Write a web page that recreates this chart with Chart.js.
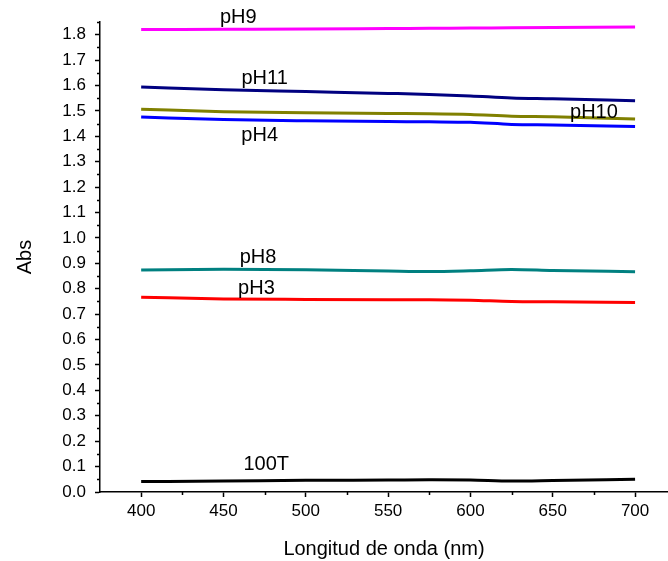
<!DOCTYPE html>
<html>
<head>
<meta charset="utf-8">
<script src="https://cdn.jsdelivr.net/npm/chart.js@4/dist/chart.umd.min.js"></script>
<style>
  html, body { margin: 0; padding: 0; background: #fff; }
  #wrap { width: 668px; height: 561px; position: relative; }
</style>
</head>
<body>
<div id="wrap"><canvas id="c" width="668" height="561"></canvas></div>
<script>
// Wavelengths (nm)
const wavelengths = [400, 450, 500, 550, 575, 600, 625, 650, 700];

// Absorbance series
const pH9  = [1.820, 1.821, 1.822, 1.824, 1.825, 1.826, 1.827, 1.828, 1.830];
const pH11 = [1.594, 1.583, 1.576, 1.569, 1.565, 1.559, 1.551, 1.548, 1.540];
const pH10 = [1.507, 1.497, 1.493, 1.490, 1.489, 1.486, 1.479, 1.477, 1.468];
const pH4  = [1.476, 1.466, 1.461, 1.458, 1.457, 1.455, 1.447, 1.445, 1.439];
const pH8  = [0.874, 0.877, 0.875, 0.870, 0.868, 0.871, 0.876, 0.872, 0.867];
const pH3  = [0.767, 0.760, 0.758, 0.757, 0.757, 0.755, 0.750, 0.749, 0.746];
const t100 = [0.041, 0.043, 0.046, 0.047, 0.048, 0.047, 0.043, 0.045, 0.050];

const seriesNames = ['pH9', 'pH11', 'pH10', 'pH4', 'pH8', 'pH3', '100T'];
const seriesValues = [pH9, pH11, pH10, pH4, pH8, pH3, t100];
const seriesColors = ['#ff00ff', '#000080', '#808000', '#0000ff', '#008080', '#ff0000', '#000000'];

// Text labels next to curves (data coordinates)
const labelText = ['pH9', 'pH11', 'pH10', 'pH4', 'pH8', 'pH3', '100T'];
const labelX    = [459, 475, 675, 472, 471, 470, 476];
const labelY    = [1.867, 1.626, 1.493, 1.402, 0.922, 0.800, 0.110];

const FONT = '"Liberation Sans", Arial, sans-serif';

const datasets = seriesNames.map((name, i) => ({
  label: name,
  data: wavelengths.map((x, j) => ({ x: x, y: seriesValues[i][j] })),
  borderColor: seriesColors[i],
  backgroundColor: seriesColors[i],
  borderWidth: 3,
  pointRadius: 0,
  cubicInterpolationMode: 'monotone',
  fill: false
}));

const extras = {
  id: 'extras',
  afterDraw(chart) {
    const ctx = chart.ctx;
    const xs = chart.scales.x, ys = chart.scales.y;
    ctx.save();
    ctx.strokeStyle = '#000';
    ctx.lineWidth = 1.5;
    ctx.beginPath();
    // minor ticks on x
    for (let v = 425; v <= 700; v += 50) {
      const px = Math.round(xs.getPixelForValue(v)) + 0.5;
      ctx.moveTo(px, ys.bottom);
      ctx.lineTo(px, ys.bottom + 3);
    }
    // minor ticks on y
    for (let k = 1; k <= 37; k += 2) {
      const v = k * 0.05;
      const py = Math.round(ys.getPixelForValue(v)) + 0.5;
      ctx.moveTo(xs.left, py);
      ctx.lineTo(xs.left - 3, py);
    }
    ctx.stroke();
    // curve labels
    ctx.fillStyle = '#000';
    ctx.font = '20px ' + FONT;
    ctx.textAlign = 'center';
    ctx.textBaseline = 'middle';
    for (let i = 0; i < labelText.length; i++) {
      ctx.fillText(labelText[i], xs.getPixelForValue(labelX[i]), ys.getPixelForValue(labelY[i]));
    }
    ctx.restore();
  }
};

new Chart(document.getElementById('c'), {
  type: 'line',
  data: { datasets: datasets },
  options: {
    responsive: false,
    devicePixelRatio: 1,
    animation: false,
    layout: { padding: { top: 22, right: 0, bottom: 0, left: 0 } },
    plugins: { legend: { display: false }, tooltip: { enabled: false } },
    scales: {
      x: {
        type: 'linear',
        min: 375,
        max: 720,
        afterFit(scale) { scale.height = 69; },
        ticks: {
          stepSize: 50,
          includeBounds: false,
          color: '#000',
          padding: 4,
          font: { family: FONT, size: 17 },
          maxRotation: 0
        },
        grid: { drawOnChartArea: false, drawTicks: true, tickLength: 5, tickColor: '#000', tickWidth: 1.5 },
        border: { display: true, color: '#000', width: 1.5 },
        title: {
          display: true,
          text: 'Longitud de onda (nm)',
          color: '#000',
          font: { family: FONT, size: 20 },
          padding: { top: 0, bottom: 0 }
        }
      },
      y: {
        type: 'linear',
        min: 0,
        max: 1.85,
        afterFit(scale) { scale.width = 100; },
        ticks: {
          stepSize: 0.1,
          includeBounds: false,
          color: '#000',
          padding: 9,
          font: { family: FONT, size: 17 },
          callback: v => v.toFixed(1)
        },
        grid: { drawOnChartArea: false, drawTicks: true, tickLength: 5, tickColor: '#000', tickWidth: 1.5 },
        border: { display: true, color: '#000', width: 1.5 },
        title: {
          display: true,
          text: 'Abs',
          color: '#000',
          font: { family: FONT, size: 20 },
          padding: { top: 13, bottom: 0 }
        }
      }
    }
  },
  plugins: [extras]
});
</script>
</body>
</html>
